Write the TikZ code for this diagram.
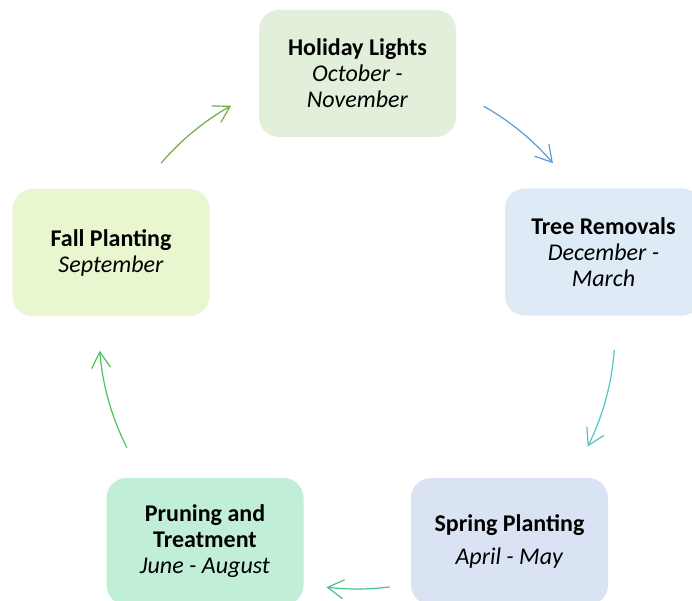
\documentclass[tikz,border=0pt]{standalone}
\usepackage{fontspec}
\setmainfont{Carlito}
\usetikzlibrary{arrows.meta,calc}
\definecolor{fHol}{RGB}{226,239,218}
\definecolor{fTree}{RGB}{222,235,247}
\definecolor{fSpr}{RGB}{218,227,243}
\definecolor{fPru}{RGB}{192,238,214}
\definecolor{fFall}{RGB}{233,247,208}
\definecolor{aOne}{RGB}{112,173,71}
\definecolor{aTwo}{RGB}{91,155,213}
\definecolor{aThree}{RGB}{75,200,200}
\definecolor{aFour}{RGB}{72,196,138}
\definecolor{aFive}{RGB}{76,196,92}
\begin{document}
\begin{tikzpicture}[x=1pt,y=1pt,
  box/.style={rounded corners=20pt, minimum width=197pt, minimum height=127pt,
    align=center, inner sep=0pt, text=black,
    font=\fontsize{24}{26}\selectfont},
  cyc/.style={line width=1.2pt, -{Straight Barb[length=16pt,width=19pt]}}]
\clip (0,0) rectangle (692,600);
\fill[white] (0,0) rectangle (692,600);
\coordinate (ctr) at (357,269);
\node[box, fill=fHol] (hol) at (357.5,526.5) {\textbf{Holiday Lights}\\\textit{October -}\\\textit{November}};
\node[box, fill=fTree] (tree) at (603.5,348) {\textbf{Tree Removals}\\\textit{December -}\\\textit{March}};
\node[box, fill=fSpr] (spr) at (509.5,58.5) {\textbf{Spring Planting}\\[7pt]\textit{April - May}};
\node[box, fill=fPru] (pru) at (205,58.5) {\textbf{Pruning and}\\\textbf{Treatment}\\\textit{June - August}};
\node[box, fill=fFall] (fall) at (111,347.5) {\textbf{Fall Planting}\\\textit{September}};
\coordinate (a1s) at ($(ctr)+(139.4:258)$);
\coordinate (a2s) at ($(ctr)+(60.6:258)$);
\coordinate (a3s) at ($(ctr)+(-4.2:258)$);
\coordinate (a4s) at ($(ctr)+(-82.7:258)$);
\coordinate (a5s) at ($(ctr)+(-153.1:258)$);
\draw[cyc, aOne] (a1s) arc[start angle=139.4, end angle=119.2, radius=258];
\draw[cyc, aTwo] (a2s) arc[start angle=60.6, end angle=40.6, radius=258];
\draw[cyc, aThree] (a3s) arc[start angle=-4.2, end angle=-26.6, radius=258];
\draw[cyc, aFour] (a4s) arc[start angle=-82.7, end angle=-96.8, radius=258];
\draw[cyc, aFive] (a5s) arc[start angle=-153.1, end angle=-175.6, radius=258];
\end{tikzpicture}
\end{document}
